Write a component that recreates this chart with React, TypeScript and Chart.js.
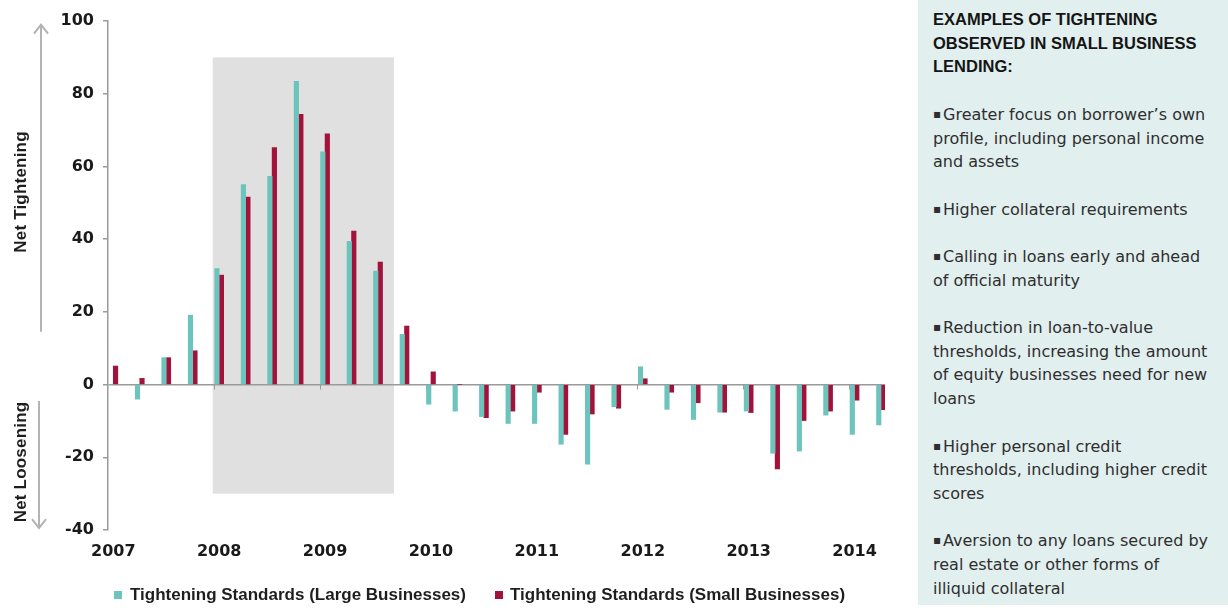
import React, { useEffect, useRef } from 'react';
import { Chart, registerables } from 'chart.js';

Chart.register(...registerables);

// ---- Data ----
const quarters = [
  '2007 Q1', '2007 Q2', '2007 Q3', '2007 Q4',
  '2008 Q1', '2008 Q2', '2008 Q3', '2008 Q4',
  '2009 Q1', '2009 Q2', '2009 Q3', '2009 Q4',
  '2010 Q1', '2010 Q2', '2010 Q3', '2010 Q4',
  '2011 Q1', '2011 Q2', '2011 Q3', '2011 Q4',
  '2012 Q1', '2012 Q2', '2012 Q3', '2012 Q4',
  '2013 Q1', '2013 Q2', '2013 Q3', '2013 Q4',
  '2014 Q1', '2014 Q2',
];

const largeBusinesses = [
  0, -4.0, 7.4, 19.1,
  31.9, 55.0, 57.3, 83.4,
  64.0, 39.4, 31.2, 13.8,
  -5.4, -7.3, -8.8, -10.7,
  -10.7, -16.4, -21.9, -6.1,
  4.9, -6.8, -9.6, -7.6,
  -7.3, -18.9, -18.3, -8.4,
  -13.7, -11.1,
];

const smallBusinesses = [
  5.1, 1.7, 7.4, 9.3,
  30.1, 51.6, 65.2, 74.3,
  69.0, 42.2, 33.7, 16.1,
  3.5, 0, -9.1, -7.3,
  -2.1, -13.7, -8.1, -6.5,
  1.6, -2.1, -5.0, -7.6,
  -7.7, -23.2, -9.9, -7.3,
  -4.3, -6.9,
];

const seriesNames = [
  'Tightening Standards (Large Businesses)',
  'Tightening Standards (Small Businesses)',
];

const yMin = -40;
const yMax = 100;
const yStep = 20;

// shaded period (in quarter-index units) and its value extent
const shadeStart = 3.755;
const shadeEnd = 10.6;
const shadeTop = 90;
const shadeBottom = -30;

// year-boundary tick marks on the zero line (quarter-index units)
const yearBoundaryShift = -0.2;

// side arrows (value extents)
const upArrowFrom = 14.5;
const upArrowTo = 99;
const downArrowFrom = -4.5;
const downArrowTo = -39.5;

const panelTitle = ['EXAMPLES OF TIGHTENING', 'OBSERVED IN SMALL BUSINESS', 'LENDING:'];
const panelBullets = [
  ['Greater focus on borrower’s own', 'profile, including personal income', 'and assets'],
  ['Higher collateral requirements'],
  ['Calling in loans early and ahead', 'of official maturity'],
  ['Reduction in loan-to-value', 'thresholds, increasing the amount', 'of equity businesses need for new', 'loans'],
  ['Higher personal credit', 'thresholds, including higher credit', 'scores'],
  ['Aversion to any loans secured by', 'real estate or other forms of', 'illiquid collateral'],
];

const TEAL = '#6cc4bc';
const RED = '#a3123a';
const AXIS = '#9a9a9a';

const decorPlugin = {
  id: 'decor',
  beforeDraw(chart: any) {
    const { ctx, scales } = chart;
    const x = scales.x;
    const y = scales.y;
    const x0 = x.getPixelForValue(shadeStart);
    const x1 = x.getPixelForValue(shadeEnd);
    const y0 = y.getPixelForValue(shadeTop);
    const y1 = y.getPixelForValue(shadeBottom);
    ctx.save();
    ctx.fillStyle = '#e0e0e0';
    ctx.fillRect(x0, y0, x1 - x0, y1 - y0);
    ctx.restore();
  },
  beforeDatasetsDraw(chart: any) {
    const { ctx, scales } = chart;
    const x = scales.x;
    const y = scales.y;
    const y0 = y.getPixelForValue(0);
    ctx.save();
    ctx.strokeStyle = AXIS;
    ctx.lineWidth = 1;
    ctx.beginPath();
    quarters.forEach((q, i) => {
      if (i > 0 && q.endsWith('Q1')) {
        const px = Math.round(x.getPixelForValue(i + yearBoundaryShift)) + 0.5;
        ctx.moveTo(px, y0);
        ctx.lineTo(px, y0 + 5);
      }
    });
    ctx.stroke();
    ctx.restore();
  },
  afterDraw(chart: any) {
    const { ctx, scales } = chart;
    const y = scales.y;
    ctx.save();
    ctx.strokeStyle = '#b3b3b3';
    ctx.lineWidth = 2;
    // up arrow
    const ax = 41;
    const uTop = y.getPixelForValue(upArrowTo);
    const uBot = y.getPixelForValue(upArrowFrom);
    ctx.beginPath();
    ctx.moveTo(ax, uBot);
    ctx.lineTo(ax, uTop);
    ctx.moveTo(ax - 7, uTop + 9);
    ctx.lineTo(ax, uTop);
    ctx.lineTo(ax + 7, uTop + 9);
    ctx.stroke();
    // down arrow
    const bx = 39;
    const dTop = y.getPixelForValue(downArrowFrom);
    const dBot = y.getPixelForValue(downArrowTo);
    ctx.beginPath();
    ctx.moveTo(bx, dTop);
    ctx.lineTo(bx, dBot);
    ctx.moveTo(bx - 7, dBot - 9);
    ctx.lineTo(bx, dBot);
    ctx.lineTo(bx + 7, dBot - 9);
    ctx.stroke();
    ctx.restore();
  },
};

function BarChart() {
  const ref = useRef<HTMLCanvasElement | null>(null);
  useEffect(() => {
    if (!ref.current) return;
    const chart = new Chart(ref.current, {
      type: 'bar',
      data: {
        datasets: [
          {
            label: seriesNames[0],
            data: largeBusinesses.map((v, i) => ({ x: i, y: v })),
            backgroundColor: TEAL,
            barThickness: 4.5,
          },
          {
            label: seriesNames[1],
            data: smallBusinesses.map((v, i) => ({ x: i, y: v })),
            backgroundColor: RED,
            barThickness: 4.5,
          },
        ],
      },
      options: {
        responsive: false,
        animation: false,
        devicePixelRatio: 1,
        layout: { padding: { top: 21, right: 33, bottom: 0, left: 0 } },
        plugins: {
          legend: { display: false },
          tooltip: { enabled: false },
        },
        scales: {
          x: {
            type: 'linear',
            min: -0.2,
            max: 29.15,
            offset: false,
            grid: { display: false, drawTicks: false, tickLength: 0, offset: false },
            border: { display: false },
            afterBuildTicks: (s: any) => {
              s.ticks = quarters
                .map((q, i) => ({ q, i }))
                .filter((o) => o.q.endsWith('Q1'))
                .map((o) => ({ value: o.i }));
            },
            afterFit: (s: any) => {
              s.height = 78;
            },
            ticks: {
              autoSkip: false,
              maxRotation: 0,
              padding: 12,
              color: '#1a1a1a',
              font: { family: "'DejaVu Sans', sans-serif", size: 16, weight: 'bold' },
              callback: (v: any) => {
                const q = quarters[Math.round(Number(v))];
                return q ? q.slice(0, 4) : '';
              },
            },
          },
          y: {
            min: yMin,
            max: yMax,
            afterFit: (s: any) => {
              s.width = 108;
            },
            ticks: {
              stepSize: yStep,
              padding: 9,
              color: '#1a1a1a',
              font: { family: "'DejaVu Sans', sans-serif", size: 16, weight: 'bold' },
            },
            grid: {
              drawOnChartArea: true,
              drawTicks: true,
              tickLength: 5,
              tickColor: AXIS,
              color: (c: any) => (c.tick && c.tick.value === 0 ? AXIS : 'rgba(0,0,0,0)'),
              lineWidth: 1.5,
            },
            border: { display: true, color: AXIS, width: 1.5 },
          },
        },
      },
      plugins: [decorPlugin],
    } as any);
    return () => chart.destroy();
  }, []);
  return <canvas ref={ref} width={918} height={608} style={{ width: 918, height: 608, display: 'block' }} />;
}

const sideLabel: React.CSSProperties = {
  position: 'absolute',
  transform: 'translate(-50%, -50%) rotate(-90deg)',
  whiteSpace: 'nowrap',
  fontFamily: "'Liberation Sans', Arial, sans-serif",
  fontWeight: 'bold',
  fontSize: 17,
  letterSpacing: 0.2,
  color: '#1e1e1e',
};

const legendText: React.CSSProperties = {
  position: 'absolute',
  top: 584,
  whiteSpace: 'nowrap',
  fontFamily: "'Liberation Sans', Arial, sans-serif",
  fontWeight: 'bold',
  fontSize: 17,
  lineHeight: '22px',
  color: '#1e1e1e',
};

export default function App() {
  useEffect(() => {
    document.body.style.margin = '0';
  }, []);
  return (
    <div style={{ position: 'fixed', left: 0, top: 0, width: 1228, height: 608, background: '#fff', overflow: 'hidden' }}>
      <div style={{ position: 'absolute', left: 0, top: 0 }}>
        <BarChart />
      </div>
      <div style={{ ...sideLabel, left: 20.5, top: 192 }}>Net Tightening</div>
      <div style={{ ...sideLabel, left: 20.5, top: 462 }}>Net Loosening</div>

      <div style={{ position: 'absolute', left: 114, top: 591, width: 8, height: 8, background: TEAL }} />
      <div style={{ ...legendText, left: 130 }}>{seriesNames[0]}</div>
      <div style={{ position: 'absolute', left: 495, top: 591, width: 8, height: 8, background: RED }} />
      <div style={{ ...legendText, left: 510 }}>{seriesNames[1]}</div>

      <div
        style={{
          position: 'absolute',
          left: 918,
          top: 0,
          width: 310,
          height: 605,
          background: '#e2efef',
          boxSizing: 'border-box',
          paddingTop: 8,
          paddingLeft: 15,
          lineHeight: '23.7px',
        }}
      >
        {panelTitle.map((t, i) => (
          <div
            key={'t' + i}
            style={{
              whiteSpace: 'nowrap',
              fontFamily: "'Liberation Sans', Arial, sans-serif",
              fontWeight: 'bold',
              fontSize: 16.5,
              color: '#151515',
            }}
          >
            {t}
          </div>
        ))}
        {panelBullets.map((lines, bi) => (
          <div key={'b' + bi} style={{ marginTop: 23.7 }}>
            {lines.map((l, li) => (
              <div
                key={li}
                style={{
                  whiteSpace: 'nowrap',
                  fontFamily: "'DejaVu Sans', sans-serif",
                  fontSize: 16,
                  color: '#2e2e2e',
                }}
              >
                {li === 0 ? (
                  <span style={{ display: 'inline-block', width: 10, fontSize: 12, verticalAlign: 'top' }}>▪</span>
                ) : null}
                {l}
              </div>
            ))}
          </div>
        ))}
      </div>
    </div>
  );
}
